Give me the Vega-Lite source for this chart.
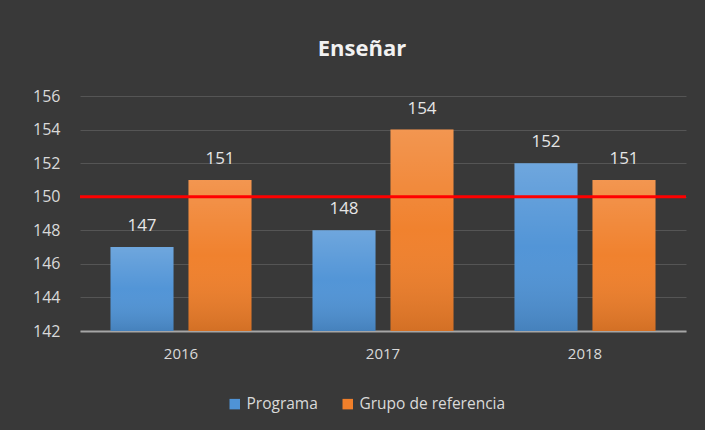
{
  "$schema": "https://vega.github.io/schema/vega-lite/v6.json",
  "width": 606,
  "height": 235,
  "autosize": {"type": "none"},
  "padding": {"left": 80, "top": 96, "right": 19, "bottom": 99},
  "background": "#393939",
  "config": {"view": {"stroke": null}},
  "title": {
    "text": "Enseñar",
    "fontSize": 22,
    "font": "Open Sans",
    "fontWeight": "bold",
    "color": "#f2f2f2",
    "anchor": "middle",
    "dx": -21,
    "offset": 27
  },
  "data": {
    "values": [
      {"year": "2016", "serie": "Programa", "value": 147},
      {"year": "2016", "serie": "Grupo de referencia", "value": 151},
      {"year": "2017", "serie": "Programa", "value": 148},
      {"year": "2017", "serie": "Grupo de referencia", "value": 154},
      {"year": "2018", "serie": "Programa", "value": 152},
      {"year": "2018", "serie": "Grupo de referencia", "value": 151}
    ]
  },
  "encoding": {
    "x": {
      "field": "year",
      "type": "nominal",
      "scale": {"paddingInner": 0, "paddingOuter": 0},
      "axis": {
        "title": null,
        "labelAngle": 0,
        "ticks": false,
        "labelPadding": 15,
        "labelFont": "Open Sans",
        "labelFontSize": 15,
        "labelColor": "#d9d9d9",
        "domainColor": "#a6a6a6",
        "domainWidth": 2,
        "grid": false
      }
    },
    "xOffset": {
      "field": "serie",
      "type": "nominal",
      "sort": ["Programa", "Grupo de referencia"],
      "scale": {"paddingInner": 0.192, "paddingOuter": 0.391}
    },
    "y": {
      "field": "value",
      "type": "quantitative",
      "scale": {"domain": [142, 156], "nice": false, "zero": false},
      "axis": {
        "title": null,
        "values": [142, 144, 146, 148, 150, 152, 154, 156],
        "ticks": false,
        "domain": false,
        "labelPadding": 20,
        "labelFont": "Open Sans",
        "labelFontSize": 16,
        "labelColor": "#d9d9d9",
        "gridColor": "#555555",
        "gridWidth": 1
      }
    }
  },
  "layer": [
    {
      "mark": {"type": "bar", "clip": true},
      "encoding": {
        "y2": {"datum": 142},
        "color": {
          "field": "serie",
          "type": "nominal",
          "sort": ["Programa", "Grupo de referencia"],
          "scale": {"domain": ["Programa", "Grupo de referencia"], "range": ["#4f93d6", "#f07f2a"]},
          "legend": {
            "title": null,
            "orient": "none",
            "legendX": 147,
            "legendY": 300,
            "direction": "horizontal",
            "symbolType": "square",
            "symbolSize": 110,
            "symbolStrokeWidth": 0,
            "labelFont": "Open Sans",
            "labelFontSize": 15.5,
            "labelColor": "#d9d9d9",
            "columnPadding": 22,
            "labelOffset": 4
          }
        }
      }
    },
    {
      "mark": {
        "type": "bar",
        "fill": {
          "gradient": "linear",
          "x1": 0, "y1": 0, "x2": 0, "y2": 1,
          "stops": [
            {"offset": 0, "color": "rgba(255,255,255,0.18)"},
            {"offset": 0.5, "color": "rgba(255,255,255,0.02)"},
            {"offset": 1, "color": "rgba(0,0,0,0.12)"}
          ]
        }
      },
      "encoding": {"y2": {"datum": 142}}
    },
    {
      "mark": {"type": "text", "dy": -21, "font": "Open Sans", "fontSize": 17, "color": "#e6e6e6"},
      "encoding": {"text": {"field": "value", "type": "quantitative"}}
    },
    {
      "data": {"values": [{"ref": 150}]},
      "mark": {"type": "rule", "color": "#ff0000", "strokeWidth": 3},
      "encoding": {"y": {"field": "ref", "type": "quantitative"}, "x": null, "xOffset": null}
    }
  ]
}
